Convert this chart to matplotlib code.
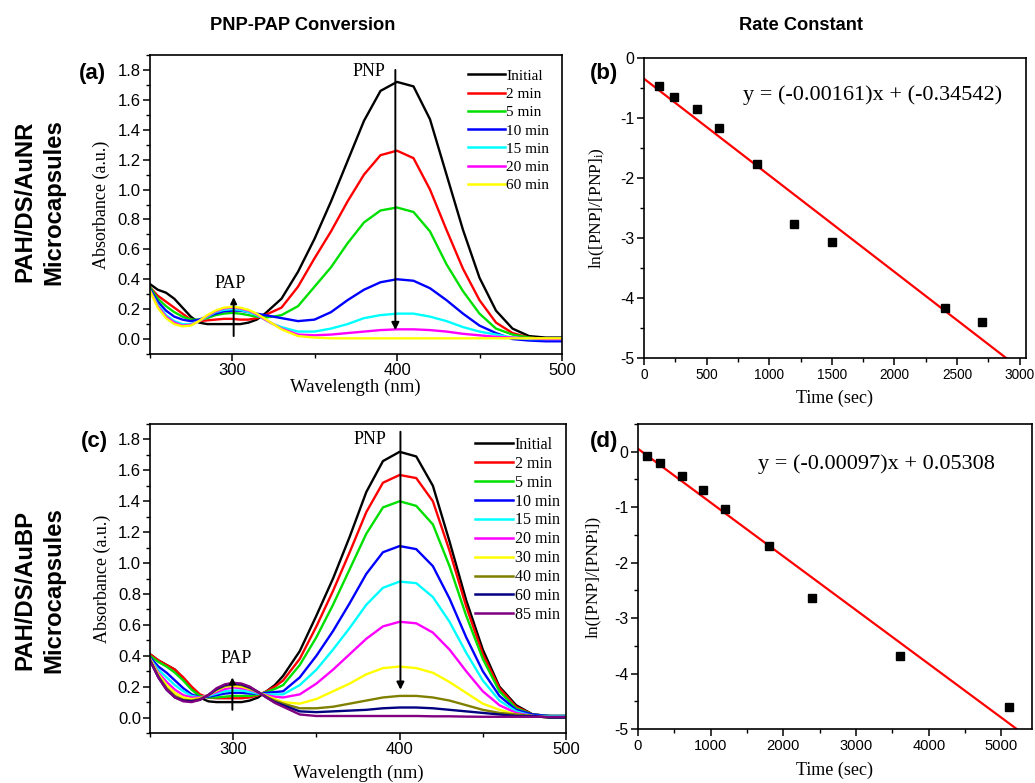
import matplotlib
matplotlib.use("Agg")
import matplotlib.pyplot as plt
from matplotlib import font_manager
from matplotlib.ticker import MultipleLocator, FixedLocator

# ---------------- data ----------------
wavelength = [250, 255, 260, 265, 270, 275, 280, 285, 290, 295, 300, 305, 310, 315, 320, 325, 330,
              340, 350, 360, 370, 380, 390, 400, 410, 420, 430, 440, 450, 460, 470, 480, 490, 500]

# Panel (a): PAH/DS/AuNR
a_labels = ["Initial", "2 min", "5 min", "10 min", "15 min", "20 min", "60 min"]
a_colors = ["#000000", "#ff0000", "#00e000", "#0000ff", "#00ffff", "#ff00ff", "#ffff00"]
a_initial = [0.37, 0.33, 0.31, 0.27, 0.21, 0.15, 0.11, 0.10, 0.10, 0.10, 0.10, 0.10, 0.11, 0.13, 0.17, 0.22, 0.27,
             0.45, 0.67, 0.92, 1.19, 1.46, 1.66, 1.72, 1.69, 1.47, 1.10, 0.73, 0.41, 0.19, 0.07, 0.02, 0.01, 0.01]
a_2min = [0.35, 0.29, 0.25, 0.21, 0.17, 0.13, 0.12, 0.125, 0.13, 0.135, 0.135, 0.13, 0.13, 0.14, 0.16, 0.185, 0.21,
          0.35, 0.54, 0.72, 0.92, 1.10, 1.23, 1.26, 1.21, 1.00, 0.73, 0.47, 0.26, 0.11, 0.04, 0.01, 0.0, 0.0]
a_5min = [0.35, 0.27, 0.22, 0.18, 0.15, 0.13, 0.13, 0.14, 0.16, 0.17, 0.175, 0.17, 0.16, 0.15, 0.145, 0.15, 0.16,
          0.22, 0.35, 0.48, 0.64, 0.78, 0.86, 0.88, 0.85, 0.72, 0.50, 0.32, 0.17, 0.07, 0.03, 0.01, 0.0, 0.0]
a_10min = [0.34, 0.25, 0.19, 0.15, 0.13, 0.12, 0.13, 0.15, 0.17, 0.185, 0.19, 0.19, 0.18, 0.17, 0.16, 0.15, 0.14,
           0.12, 0.13, 0.18, 0.26, 0.33, 0.38, 0.40, 0.39, 0.34, 0.26, 0.17, 0.09, 0.04, 0.0, -0.01, -0.015, -0.015]
a_15min = [0.33, 0.23, 0.16, 0.12, 0.10, 0.10, 0.12, 0.15, 0.18, 0.195, 0.20, 0.195, 0.18, 0.16, 0.13, 0.10, 0.08,
           0.05, 0.05, 0.07, 0.10, 0.14, 0.16, 0.17, 0.17, 0.15, 0.12, 0.08, 0.05, 0.03, 0.01, 0.0, 0.0, 0.0]
a_20min = [0.33, 0.22, 0.15, 0.11, 0.09, 0.095, 0.12, 0.155, 0.185, 0.205, 0.21, 0.205, 0.19, 0.165, 0.13, 0.10, 0.07,
           0.03, 0.025, 0.03, 0.04, 0.05, 0.06, 0.065, 0.065, 0.06, 0.05, 0.035, 0.025, 0.015, 0.01, 0.005, 0.0, 0.0]
a_60min = [0.33, 0.21, 0.14, 0.10, 0.085, 0.09, 0.12, 0.16, 0.19, 0.21, 0.215, 0.21, 0.195, 0.17, 0.135, 0.10, 0.065,
           0.02, 0.01, 0.005, 0.005, 0.005, 0.005, 0.005, 0.005, 0.005, 0.005, 0.005, 0.005, 0.005, 0.005, 0.005, 0.005, 0.005]

# Panel (c): PAH/DS/AuBP
c_labels = ["Initial", "2 min", "5 min", "10 min", "15 min", "20 min", "30 min", "40 min", "60 min", "85 min"]
c_colors = ["#000000", "#ff0000", "#00e000", "#0000ff", "#00ffff", "#ff00ff", "#ffff00", "#808000", "#000080", "#800080"]
c_initial = [0.41, 0.37, 0.34, 0.31, 0.25, 0.19, 0.13, 0.105, 0.10, 0.10, 0.10, 0.10, 0.11, 0.13, 0.17, 0.21, 0.27,
             0.43, 0.66, 0.90, 1.17, 1.46, 1.66, 1.72, 1.69, 1.50, 1.14, 0.76, 0.44, 0.20, 0.08, 0.02, 0.01, 0.01]
c_2min = [0.41, 0.37, 0.34, 0.31, 0.26, 0.20, 0.15, 0.13, 0.125, 0.125, 0.125, 0.125, 0.13, 0.145, 0.17, 0.20, 0.24,
          0.38, 0.59, 0.82, 1.07, 1.33, 1.52, 1.57, 1.55, 1.40, 1.08, 0.72, 0.41, 0.19, 0.07, 0.02, 0.01, 0.01]
c_5min = [0.40, 0.36, 0.33, 0.29, 0.24, 0.18, 0.14, 0.13, 0.13, 0.135, 0.14, 0.14, 0.14, 0.15, 0.165, 0.185, 0.21,
          0.34, 0.52, 0.73, 0.96, 1.19, 1.36, 1.40, 1.37, 1.25, 0.98, 0.66, 0.38, 0.17, 0.06, 0.02, 0.01, 0.01]
c_10min = [0.39, 0.33, 0.29, 0.24, 0.19, 0.15, 0.13, 0.135, 0.145, 0.155, 0.16, 0.16, 0.155, 0.155, 0.16, 0.165, 0.17,
           0.26, 0.40, 0.56, 0.74, 0.93, 1.07, 1.11, 1.09, 0.98, 0.77, 0.52, 0.30, 0.14, 0.05, 0.02, 0.01, 0.01]
c_15min = [0.38, 0.31, 0.26, 0.21, 0.17, 0.14, 0.13, 0.14, 0.155, 0.17, 0.175, 0.175, 0.165, 0.155, 0.15, 0.15, 0.15,
           0.21, 0.31, 0.44, 0.58, 0.73, 0.84, 0.88, 0.87, 0.78, 0.62, 0.42, 0.24, 0.11, 0.04, 0.01, 0.01, 0.01]
c_20min = [0.38, 0.29, 0.23, 0.18, 0.145, 0.13, 0.13, 0.145, 0.165, 0.185, 0.195, 0.19, 0.18, 0.16, 0.145, 0.135, 0.13,
           0.15, 0.22, 0.31, 0.41, 0.51, 0.59, 0.62, 0.61, 0.55, 0.44, 0.30, 0.17, 0.08, 0.03, 0.01, 0.0, 0.0]
c_30min = [0.38, 0.28, 0.21, 0.16, 0.13, 0.12, 0.125, 0.145, 0.175, 0.20, 0.205, 0.20, 0.185, 0.165, 0.14, 0.12, 0.10,
           0.09, 0.12, 0.17, 0.22, 0.28, 0.32, 0.33, 0.32, 0.29, 0.23, 0.16, 0.09, 0.05, 0.02, 0.01, 0.0, 0.0]
c_40min = [0.37, 0.27, 0.19, 0.14, 0.115, 0.11, 0.12, 0.145, 0.18, 0.205, 0.215, 0.21, 0.19, 0.165, 0.135, 0.11, 0.09,
           0.06, 0.06, 0.07, 0.09, 0.11, 0.13, 0.14, 0.14, 0.13, 0.11, 0.08, 0.05, 0.03, 0.02, 0.01, 0.0, 0.0]
c_60min = [0.37, 0.26, 0.18, 0.13, 0.11, 0.105, 0.115, 0.145, 0.185, 0.21, 0.22, 0.215, 0.195, 0.165, 0.13, 0.10, 0.08,
           0.04, 0.035, 0.04, 0.045, 0.05, 0.06, 0.065, 0.065, 0.06, 0.05, 0.04, 0.03, 0.02, 0.01, 0.01, 0.0, 0.0]
c_85min = [0.37, 0.26, 0.18, 0.13, 0.105, 0.10, 0.115, 0.145, 0.19, 0.215, 0.225, 0.22, 0.20, 0.165, 0.13, 0.095, 0.07,
           0.02, 0.01, 0.01, 0.01, 0.01, 0.01, 0.01, 0.01, 0.008, 0.008, 0.006, 0.005, 0.005, 0.005, 0.005, 0.005, 0.005]

# Panel (b): kinetics AuNR
b_time = [120, 240, 420, 600, 900, 1200, 1500, 2400, 2700]
b_lnratio = [-0.46, -0.65, -0.85, -1.16, -1.76, -2.77, -3.07, -4.17, -4.40]
b_slope, b_intercept = -0.00161, -0.34542
b_fit_range = [0, 2891]

# Panel (d): kinetics AuBP
d_time = [120, 300, 600, 900, 1200, 1800, 2400, 3600, 5100]
d_lnratio = [-0.08, -0.21, -0.43, -0.69, -1.04, -1.70, -2.63, -3.68, -4.61]
d_slope, d_intercept = -0.00097, 0.05308
d_fit_range = [0, 5209]

# ---------------- fonts ----------------
names = {f.name for f in font_manager.fontManager.ttflist}
NARROW = "Liberation Sans Narrow" if "Liberation Sans Narrow" in names else "Liberation Sans"
narrow_scale = 1.0 if NARROW == "Liberation Sans Narrow" else 0.82
SANS = "Liberation Sans"
SERIF = "Liberation Serif"

plt.rcParams["axes.unicode_minus"] = False
plt.rcParams["font.family"] = SANS

W, H = 1035, 783
fig = plt.figure(figsize=(W / 100, H / 100), dpi=100)


def add_ax(left, top, right, bottom):
    return fig.add_axes([left / W, 1 - bottom / H, (right - left) / W, (bottom - top) / H])


def style_ax(ax, tickfont, tsize, pad=2, xsize=None):
    for s in ax.spines.values():
        s.set_linewidth(1.2)
    ax.tick_params(which="major", direction="out", length=5, width=1.1, labelsize=tsize, pad=pad)
    ax.tick_params(which="minor", direction="out", length=3, width=1.0)
    if xsize is not None:
        ax.tick_params(axis="x", which="major", labelsize=xsize)
    for lab in ax.get_xticklabels() + ax.get_yticklabels():
        lab.set_fontfamily(tickfont)


def set_labels(ax, xlabel, ylabel, xsize, ysize, xlab_y, ylab_x):
    ax.set_xlabel(xlabel, fontfamily=SERIF, fontsize=xsize)
    ax.set_ylabel(ylabel, fontfamily=SERIF, fontsize=ysize)
    ax.xaxis.label.set_va("center")
    ax.yaxis.label.set_va("center")
    ax.xaxis.set_label_coords(0.5, xlab_y)
    ax.yaxis.set_label_coords(ylab_x, 0.5)


def spectra_panel(ax, box, curves, labels, colors, legend_anchor, labelspacing, pnp_arrow, pap_arrow,
                  pnp_txt, pap_txt, leg_size, xlab_px, ylab_px):
    left, top, right, bottom = box
    for y, lab, col in zip(curves, labels, colors):
        ax.plot(wavelength, y, color=col, lw=1.7, label=lab, solid_joinstyle="round")
    ax.set_xlim(250, 500)
    ax.set_ylim(-0.1, 1.9)
    ax.xaxis.set_major_locator(FixedLocator([300, 400, 500]))
    ax.xaxis.set_minor_locator(FixedLocator([250, 350, 450]))
    ax.yaxis.set_major_locator(MultipleLocator(0.2))
    ax.yaxis.set_minor_locator(MultipleLocator(0.1))
    ax.yaxis.set_major_formatter(matplotlib.ticker.FormatStrFormatter("%.1f"))
    style_ax(ax, SANS, 12, pad=1.5)
    set_labels(ax, "Wavelength (nm)", "Absorbance (a.u.)", 13.5, 13,
               (bottom - xlab_px) / (bottom - top), (ylab_px - left) / (right - left))
    leg = ax.legend(loc="upper left", bbox_to_anchor=legend_anchor, frameon=False,
                    prop={"family": SERIF, "size": leg_size}, handlelength=2.4, handletextpad=0.1,
                    labelspacing=labelspacing, borderpad=0, borderaxespad=0)
    for l in leg.get_lines():
        l.set_linewidth(1.8)
    ax.annotate("", xy=pnp_arrow[1], xytext=pnp_arrow[0],
                arrowprops=dict(arrowstyle="-|>", lw=1.4, color="black", mutation_scale=11, shrinkA=0, shrinkB=0))
    ax.annotate("", xy=pap_arrow[1], xytext=pap_arrow[0],
                arrowprops=dict(arrowstyle="-|>", lw=1.4, color="black", mutation_scale=9, shrinkA=0, shrinkB=0))
    ax.text(pnp_txt[0], pnp_txt[1], "PNP", fontfamily=SERIF, fontsize=13, ha="center", va="center")
    ax.text(pap_txt[0], pap_txt[1], "PAP", fontfamily=SERIF, fontsize=13, ha="center", va="center")


def kinetic_panel(ax, box, t, lnr, slope, intercept, fit_range, xlim, ylim, xmaj, xmin_, ylabel, eq, eqpos,
                  xlab_px, ylab_px, xtick_size):
    left, top, right, bottom = box
    fit_y = [slope * x + intercept for x in fit_range]
    ax.plot(fit_range, fit_y, color="#ff0000", lw=1.6, zorder=2)
    ax.plot(t, lnr, ls="none", marker="s", ms=6, color="black", zorder=3)
    ax.set_xlim(*xlim)
    ax.set_ylim(*ylim)
    ax.xaxis.set_major_locator(MultipleLocator(xmaj))
    ax.xaxis.set_minor_locator(MultipleLocator(xmin_))
    ax.yaxis.set_major_locator(MultipleLocator(1))
    ax.yaxis.set_minor_locator(MultipleLocator(0.5))
    style_ax(ax, NARROW, 14 * narrow_scale, xsize=xtick_size * narrow_scale)
    set_labels(ax, "Time (sec)", ylabel, 13, 12.5,
               (bottom - xlab_px) / (bottom - top), (ylab_px - left) / (right - left))
    ax.text(eqpos[0], eqpos[1], eq, fontfamily=SERIF, fontsize=16, ha="left", va="center")


# Panel (a)
box_a = (149.5, 55, 562, 354)
ax_a = add_ax(*box_a)
spectra_panel(ax_a, box_a, [a_initial, a_2min, a_5min, a_10min, a_15min, a_20min, a_60min], a_labels, a_colors,
              ((468 - 149.5) / 412.5, 1 - (69 - 55) / 299), 0.30,
              pnp_arrow=((399, 1.80), (399, 0.06)), pap_arrow=((301, 0.02), (301, 0.28)),
              pnp_txt=(383, 1.79), pap_txt=(299, 0.37), leg_size=11, xlab_px=387, ylab_px=101)

# Panel (c)
box_c = (150, 424, 566, 733)
ax_c = add_ax(*box_c)
spectra_panel(ax_c, box_c, [c_initial, c_2min, c_5min, c_10min, c_15min, c_20min, c_30min, c_40min, c_60min, c_85min],
              c_labels, c_colors, ((475 - 150) / 416, 1 - (437 - 424) / 309), 0.18,
              pnp_arrow=((400.5, 1.85), (400.5, 0.18)), pap_arrow=((299.5, 0.05), (299.5, 0.26)),
              pnp_txt=(382, 1.80), pap_txt=(302, 0.38), leg_size=11.5, xlab_px=773, ylab_px=102)

# Panel (b)
box_b = (644, 58, 1026, 358)
ax_b = add_ax(*box_b)
kinetic_panel(ax_b, box_b, b_time, b_lnratio, b_slope, b_intercept, b_fit_range, (0, 3050), (-5, 0), 500, 250,
              "ln([PNP]/[PNP]$\\mathregular{_i}$)", "y = (-0.00161)x + (-0.34542)", (790, -0.62),
              xlab_px=398, ylab_px=597, xtick_size=12)

# Panel (d)
box_d = (638, 424, 1032, 729)
ax_d = add_ax(*box_d)
kinetic_panel(ax_d, box_d, d_time, d_lnratio, d_slope, d_intercept, d_fit_range, (0, 5420), (-5, 0.5), 1000, 500,
              "ln([PNP]/[PNPi])", "y = (-0.00097)x + 0.05308", (1653, -0.22),
              xlab_px=770, ylab_px=593, xtick_size=13)

# Panel letters
for (x, y, s) in [(92, 73, "(a)"), (604, 73, "(b)"), (94, 441, "(c)"), (604, 441, "(d)")]:
    fig.text(x / W, 1 - y / H, s, fontfamily=SANS, fontweight="bold", fontsize=16, ha="center", va="center")

# Column titles
for (x, s) in [(303, "PNP-PAP Conversion"), (801, "Rate Constant")]:
    fig.text(x / W, 1 - 25 / H, s, fontfamily=NARROW, fontweight="bold", fontsize=16 * narrow_scale,
             ha="center", va="center")

# Row labels
for (x, y, s) in [(25, 201, "PAH/DS/AuNR"), (54, 202, "Microcapsules"),
                  (25, 590, "PAH/DS/AuBP"), (54, 590, "Microcapsules")]:
    fig.text(x / W, 1 - y / H, s, fontfamily=NARROW, fontweight="bold", fontsize=21 * narrow_scale,
             rotation=90, ha="center", va="center")

fig.savefig("out.png", dpi=100)
